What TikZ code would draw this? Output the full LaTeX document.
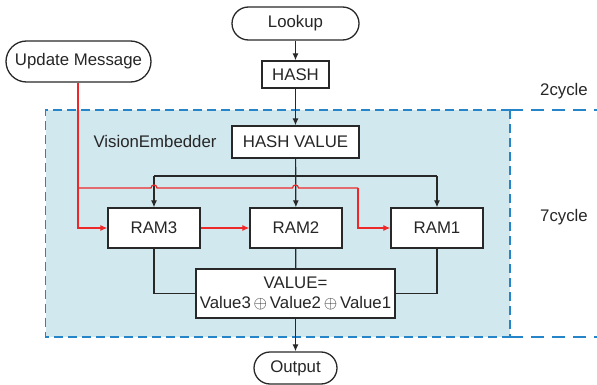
\documentclass[tikz,border=0pt]{standalone}
\usepackage{fontspec}
\setmainfont{Liberation Sans}
\usetikzlibrary{arrows.meta}
\definecolor{regfill}{RGB}{209,232,238}
\definecolor{regline}{RGB}{38,132,200}
\definecolor{redline}{RGB}{238,40,40}
\definecolor{boxline}{RGB}{40,40,40}
\begin{document}
\begin{tikzpicture}[x=1pt,y=-1pt,
  font=\fontsize{16.8}{20}\selectfont,
  box/.style={draw=boxline, fill=white, line width=1.3pt, inner sep=0pt, text=black!85},
  term/.style={box, rounded corners=#1},
  conn/.style={draw=boxline, line width=1.2pt},
  arr/.style={conn, -{Latex[length=7pt,width=6pt]}},
  rarr/.style={draw=redline, line width=1.2pt, -{Latex[length=7pt,width=6pt]}},
  regdash/.style={draw=regline, line width=1.2pt, dash pattern=on 9pt off 5pt},
  regdashlong/.style={draw=regline, line width=1.2pt, dash pattern=on 13pt off 8pt},
  lbl/.style={inner sep=0pt, text=black!85}]
\useasboundingbox (0,0) rectangle (597,385);
% region
\fill[regfill] (45.5,110) rectangle (510,337);
\draw[regdash] (510,110) -- (45.5,110) -- (45.5,337) -- (510,337);
\draw[regdash] (510,110) -- (510,337);
\draw[regdashlong] (510,110) -- (597,110);
\draw[regdashlong] (510,337) -- (597,337);
\node[lbl] (c2) at (564,91) {2cycle};
\node[lbl] (c7) at (564,217) {7cycle};
\node[lbl] (ve) at (155,141) {VisionEmbedder};
% nodes
\node[term=16.5pt, minimum width=127pt, minimum height=33pt] (lookup) at (295.5,23.5) {Lookup};
\node[term=20.5pt, minimum width=145pt, minimum height=41pt] (upd) at (78.5,61.5) {Update Message};
\node[box, minimum width=67pt, minimum height=27pt] (hash) at (295.5,74.5) {HASH};
\node[box, minimum width=127pt, minimum height=32pt] (hv) at (295.5,142) {HASH VALUE};
\node[box, minimum width=92pt, minimum height=40pt] (ram3) at (154,228) {RAM3};
\node[box, minimum width=92pt, minimum height=40pt] (ram2) at (296,228) {RAM2};
\node[box, minimum width=92pt, minimum height=40pt] (ram1) at (437,228) {RAM1};
\node[box, minimum width=199pt, minimum height=49pt, align=center] (val) at (295.5,293.5) {VALUE=\\Value3\,$\oplus$\,Value2\,$\oplus$\,Value1};
\node[term=16pt, minimum width=83pt, minimum height=32pt] (out) at (295.5,368) {Output};
\coordinate (jn) at (295.5,176);
\coordinate (jl) at (154,176);
\coordinate (jr) at (437,176);
\coordinate (rb) at (78,188);
\coordinate (rc) at (358,188);
% black connectors
\draw[arr] (lookup) -- (hash);
\draw[arr] (hash) -- (hv);
\draw[arr] (hv) -- (ram2);
\draw[conn] (jl) -- (jr);
\draw[arr] (jl) -- (ram3);
\draw[arr] (jr) -- (ram1);
\draw[conn] (ram2) -- (val);
\draw[conn] (ram3.south) |- (val.west);
\draw[conn] (ram1.south) |- (val.east);
\draw[arr] (val) -- (out);
% red connectors
\draw[rarr] (upd.south -| rb) |- (ram3.west);
\draw[redline, line width=1.2pt] (rb) -- (151,188) .. controls (151,184) and (157,184) .. (157,188)
  -- (292.5,188) .. controls (292.5,184) and (298.5,184) .. (298.5,188) -- (rc);
\draw[rarr] (rc) |- (ram1.west);
\draw[rarr] (ram3) -- (ram2);
\end{tikzpicture}
\end{document}
